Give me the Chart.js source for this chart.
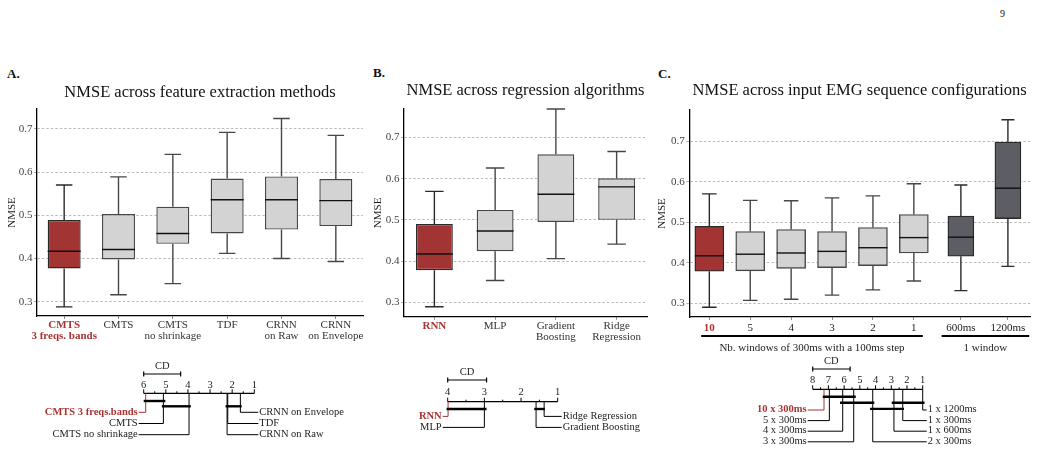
<!DOCTYPE html>
<html>
<head>
<meta charset="utf-8">
<script src="https://cdn.jsdelivr.net/npm/chart.js@4.4.0/dist/chart.umd.min.js"></script>
<style>
  html, body { margin: 0; padding: 0; background: #fff; }
  body { width: 1041px; height: 452px; position: relative; overflow: hidden; font-family: "Liberation Serif", serif; color: #111; }
  canvas { position: absolute; }
  .txt { position: absolute; white-space: nowrap; }
  .letter { position: absolute; font-weight: bold; font-size: 13px; line-height: 13px; }
</style>
</head>
<body>
<div class="txt" style="left:1000px;top:9px;font-size:10px;line-height:10px">9</div>
<div class="letter" style="left:7px;top:67.4px">A.</div>
<div class="letter" style="left:373px;top:66.4px">B.</div>
<div class="letter" style="left:658px;top:67.4px">C.</div>

<canvas id="boxA" width="372" height="290" style="left:0px;top:60px"></canvas>
<canvas id="boxB" width="293" height="290" style="left:362px;top:60px"></canvas>
<canvas id="boxC" width="395" height="295" style="left:646px;top:60px"></canvas>
<canvas id="cdA" width="370" height="100" style="left:0px;top:352px"></canvas>
<canvas id="cdB" width="270" height="100" style="left:380px;top:352px"></canvas>
<canvas id="cdC" width="341" height="100" style="left:700px;top:352px"></canvas>

<script>
// --- A: feature extraction methods
const labelsA = [['CMTS', '3 freqs. bands'], 'CMTS', ['CMTS', 'no shrinkage'], 'TDF', ['CRNN', 'on Raw'], ['CRNN', 'on Envelope']];
const minA = [0.288, 0.316, 0.342, 0.412, 0.400, 0.393];
const q1A  = [0.377, 0.398, 0.434, 0.458, 0.467, 0.475];
const medA = [0.417, 0.421, 0.458, 0.536, 0.536, 0.534];
const q3A  = [0.489, 0.503, 0.520, 0.585, 0.590, 0.584];
const maxA = [0.570, 0.589, 0.641, 0.692, 0.724, 0.685];

// --- B: regression algorithms
const labelsB = ['RNN', 'MLP', ['Gradient', 'Boosting'], ['Ridge', 'Regression']];
const minB = [0.289, 0.353, 0.406, 0.441];
const q1B  = [0.378, 0.424, 0.495, 0.500];
const medB = [0.417, 0.473, 0.562, 0.580];
const q3B  = [0.490, 0.524, 0.659, 0.601];
const maxB = [0.569, 0.626, 0.769, 0.666];

// --- C: input EMG sequence configurations
const labelsC = ['10', '5', '4', '3', '2', '1', '600ms', '1200ms'];
const posC = [0, 1, 2, 3, 4, 5, 6.15, 7.3];
const minC = [0.290, 0.307, 0.310, 0.320, 0.333, 0.355, 0.331, 0.391];
const q1C  = [0.379, 0.380, 0.386, 0.388, 0.393, 0.424, 0.416, 0.509];
const medC = [0.417, 0.421, 0.424, 0.428, 0.437, 0.462, 0.463, 0.584];
const q3C  = [0.490, 0.477, 0.482, 0.477, 0.487, 0.519, 0.515, 0.698];
const maxC = [0.570, 0.554, 0.553, 0.560, 0.565, 0.595, 0.592, 0.753];
const groupNamesC = ['Nb. windows of 300ms with a 100ms step', '1 window'];
const groupFromC = [-0.2, 5.68];
const groupToC = [5.22, 7.82];

const yTicks = [0.3, 0.4, 0.5, 0.6, 0.7];

// --- critical difference diagrams (average ranks)
const cdNamesA = ['CMTS 3 freqs.bands', 'CMTS', 'CMTS no shrinkage', 'CRNN on Envelope', 'TDF', 'CRNN on Raw'];
const cdRanksA = [5.91, 5.11, 3.95, 1.63, 2.20, 2.23];
const cliqueFromA = [6.0, 5.18, 2.30];
const cliqueToA = [5.02, 3.87, 1.57];
const cliqueLevelA = [0, 1, 1];

const cdNamesB = ['RNN', 'MLP', 'Ridge Regression', 'Gradient Boosting'];
const cdRanksB = [3.99, 3.0, 1.37, 1.59];
const cliqueFromB = [4.03, 1.64];
const cliqueToB = [2.94, 1.35];
const cliqueLevelB = [0, 0];

const cdNamesC = ['10 x 300ms', '5 x 300ms', '4 x 300ms', '3 x 300ms', '1 x 1200ms', '1 x 300ms', '1 x 600ms', '2 x 300ms'];
const cdRanksC = [7.28, 6.94, 6.09, 5.39, 1.0, 2.27, 2.83, 4.18];
const cliqueFromC = [7.36, 6.26, 2.97, 4.35];
const cliqueToC = [5.26, 4.08, 0.88, 2.19];
const cliqueLevelC = [0, 1, 1, 2];

const SERIF = '"Liberation Serif", "Times New Roman", serif';
const RED = '#a33434';
const RED_TXT = '#a83333';
const LIGHT = '#d3d3d3';
const DARK = '#5d5e63';

// whiskers + medians, drawn from the y scale
function whiskers(stats) {
  return {
    id: 'whiskers',
    afterDatasetsDraw(chart) {
      const ctx = chart.ctx, y = chart.scales.y;
      chart.data.datasets.forEach((ds, i) => {
        const s = stats[i];
        chart.getDatasetMeta(i).data.forEach((bar, j) => {
          const x = bar.x, w = bar.width, cap = w / 2;
          ctx.save();
          ctx.strokeStyle = ds.borderColor[j];
          ctx.lineWidth = 1.4;
          ctx.beginPath();
          ctx.moveTo(x, y.getPixelForValue(s.q3[j])); ctx.lineTo(x, y.getPixelForValue(s.max[j]));
          ctx.moveTo(x - cap / 2, y.getPixelForValue(s.max[j])); ctx.lineTo(x + cap / 2, y.getPixelForValue(s.max[j]));
          ctx.moveTo(x, y.getPixelForValue(s.q1[j])); ctx.lineTo(x, y.getPixelForValue(s.min[j]));
          ctx.moveTo(x - cap / 2, y.getPixelForValue(s.min[j])); ctx.lineTo(x + cap / 2, y.getPixelForValue(s.min[j]));
          ctx.stroke();
          ctx.strokeStyle = '#111';
          ctx.beginPath();
          ctx.moveTo(x - w / 2, y.getPixelForValue(s.med[j])); ctx.lineTo(x + w / 2, y.getPixelForValue(s.med[j]));
          ctx.stroke();
          ctx.restore();
        });
      });
    }
  };
}

function yScale(min, max, width, titlePad) {
  return {
    min: min, max: max,
    afterBuildTicks: s => { s.ticks = yTicks.map(v => ({ value: v })); },
    afterFit: s => { s.width = width; s.paddingTop = 0; s.paddingBottom = 0; },
    grid: { color: '#aaaaaa', lineWidth: 0.8, tickLength: 3, tickColor: '#999' },
    border: { color: '#000', width: 1.3, dash: [2.5, 2] },
    ticks: { padding: 1.5, color: '#444', font: { family: SERIF, size: 11 }, callback: v => v.toFixed(1) },
    title: { display: true, text: 'NMSE', color: '#222', padding: { top: titlePad, bottom: 0 }, font: { family: SERIF, size: 11 } }
  };
}

function xGrid() {
  return { display: true, drawOnChartArea: false, drawTicks: true, tickLength: 3, tickColor: '#888', offset: false };
}

function titleOpts(text, top, bottom) {
  return {
    display: true, text: text, fullSize: false, color: '#111',
    font: { family: SERIF, size: 16.5, weight: 'normal', lineHeight: 1.2 },
    padding: { top: top, bottom: bottom }
  };
}

function tickFont(ctx) {
  return ctx.index === 0
    ? { family: SERIF, size: 11, weight: 'bold', lineHeight: 1.0 }
    : { family: SERIF, size: 11, weight: 'normal', lineHeight: 1.0 };
}

function categoryBox(id, labels, st, title, geo) {
  const fill = labels.map((l, i) => i === 0 ? RED : LIGHT);
  const edge = labels.map((l, i) => i === 0 ? '#2a2a2a' : '#474747');
  return new Chart(document.getElementById(id), {
    type: 'bar',
    data: {
      labels: labels,
      datasets: [{
        data: st.q1.map((v, i) => [v, st.q3[i]]),
        backgroundColor: fill, borderColor: edge, borderWidth: 1.4, borderSkipped: false,
        barPercentage: 0.607, categoryPercentage: 1
      }]
    },
    options: {
      responsive: false, animation: false,
      layout: { padding: { left: 0, right: geo.padRight, top: 0, bottom: 0 } },
      plugins: {
        legend: { display: false }, tooltip: { enabled: false },
        title: titleOpts(title, geo.titleTop, geo.titleBottom)
      },
      scales: {
        x: {
          grid: xGrid(),
          border: { color: '#000', width: 1.3 },
          ticks: {
            autoSkip: false, maxRotation: 0, minRotation: 0, padding: 1,
            color: ctx => ctx.index === 0 ? RED_TXT : '#333',
            font: tickFont
          },
          afterFit: s => { s.height = geo.xHeight; s.paddingLeft = 0; s.paddingRight = 0; }
        },
        y: yScale(geo.min, geo.max, geo.yWidth, geo.yTitlePad)
      }
    },
    plugins: [whiskers([st])]
  });
}

categoryBox('boxA', labelsA, { min: minA, q1: q1A, med: medA, q3: q3A, max: maxA },
  'NMSE across feature extraction methods',
  { padRight: 9, titleTop: 23.1, titleBottom: 6.1, xHeight: 34, yWidth: 37, yTitlePad: 5.9, min: 0.267, max: 0.746 });

categoryBox('boxB', labelsB, { min: minB, q1: q1B, med: medB, q3: q3B, max: maxB },
  'NMSE across regression algorithms',
  { padRight: 8, titleTop: 21.1, titleBottom: 8.1, xHeight: 33.3, yWidth: 42, yTitlePad: 9.4, min: 0.265, max: 0.769 });

// panel C: linear x so the two groups can sit apart
const nWin = 6;
const statsC = [
  { min: minC.slice(0, nWin), q1: q1C.slice(0, nWin), med: medC.slice(0, nWin), q3: q3C.slice(0, nWin), max: maxC.slice(0, nWin) },
  { min: minC.slice(nWin), q1: q1C.slice(nWin), med: medC.slice(nWin), q3: q3C.slice(nWin), max: maxC.slice(nWin) }
];

const groupPlugin = {
  id: 'groups',
  afterDraw(chart) {
    const { ctx, chartArea: a, scales: { x } } = chart;
    ctx.save();
    groupNamesC.forEach((name, i) => {
      const x1 = x.getPixelForValue(groupFromC[i]), x2 = x.getPixelForValue(groupToC[i]);
      ctx.strokeStyle = '#000'; ctx.lineWidth = 1.8;
      ctx.beginPath(); ctx.moveTo(x1, a.bottom + 19); ctx.lineTo(x2, a.bottom + 19); ctx.stroke();
      ctx.fillStyle = '#222'; ctx.font = '11px ' + SERIF;
      ctx.textAlign = 'center'; ctx.textBaseline = 'middle';
      ctx.fillText(name, (x1 + x2) / 2, a.bottom + 31);
    });
    ctx.restore();
  }
};

new Chart(document.getElementById('boxC'), {
  type: 'bar',
  data: {
    datasets: [{
      data: posC.slice(0, nWin).map((p, i) => ({ x: p, y: [q1C[i], q3C[i]] })),
      backgroundColor: posC.slice(0, nWin).map((p, i) => i === 0 ? RED : LIGHT),
      borderColor: posC.slice(0, nWin).map((p, i) => i === 0 ? '#2a2a2a' : '#474747'),
      borderWidth: 1.4, borderSkipped: false, barThickness: 29, grouped: false
    }, {
      data: posC.slice(nWin).map((p, i) => ({ x: p, y: [q1C[nWin + i], q3C[nWin + i]] })),
      backgroundColor: [DARK, DARK], borderColor: ['#2b2b2b', '#2b2b2b'],
      borderWidth: 1.4, borderSkipped: false, barThickness: 26, grouped: false
    }]
  },
  options: {
    responsive: false, animation: false,
    layout: { padding: { left: 0, right: 11, top: 0, bottom: 0 } },
    plugins: {
      legend: { display: false }, tooltip: { enabled: false },
      title: titleOpts('NMSE across input EMG sequence configurations', 21.1, 9.1)
    },
    scales: {
      x: {
        type: 'linear', min: -0.49, max: 7.84, offset: false,
        afterBuildTicks: s => { s.ticks = posC.map(v => ({ value: v })); },
        grid: xGrid(),
        border: { color: '#000', width: 1.3 },
        ticks: {
          autoSkip: false, maxRotation: 0, minRotation: 0, padding: 3,
          color: ctx => ctx.index === 0 ? RED_TXT : '#222',
          font: tickFont,
          callback: (v, i) => labelsC[i]
        },
        afterFit: s => { s.height = 38; s.paddingLeft = 0; s.paddingRight = 0; }
      },
      y: yScale(0.266, 0.777, 43.3, 9.4)
    }
  },
  plugins: [whiskers(statsC), groupPlugin]
});

// --- CD diagrams
function cdPlugin(cd) {
  return {
    id: 'cdDiagram',
    afterDraw(chart) {
      const { ctx, chartArea: a } = chart;
      const x = chart.scales.x;
      const g = cd.geom;
      const y0 = a.top;
      const px = r => x.getPixelForValue(r);
      const seg = (pts, col, w) => {
        ctx.strokeStyle = col; ctx.lineWidth = w;
        ctx.beginPath(); ctx.moveTo(pts[0][0], pts[0][1]);
        for (let i = 1; i < pts.length; i++) ctx.lineTo(pts[i][0], pts[i][1]);
        ctx.stroke();
      };
      ctx.save();
      // rank axis
      seg([[px(cd.k), y0], [px(1), y0]], '#000', 1.2);
      ctx.font = '10.5px ' + SERIF; ctx.fillStyle = '#222';
      ctx.textAlign = 'center'; ctx.textBaseline = 'middle';
      for (let r = 1; r <= cd.k; r += 0.5) {
        const major = Number.isInteger(r);
        seg([[px(r), y0], [px(r), y0 - (major ? 4 : 2)]], '#000', 1);
        if (major) ctx.fillText(String(r), px(r), y0 + g.tickDy);
      }
      // critical difference bar
      const c1 = px(cd.k), c2 = px(cd.k - cd.cd), cy = y0 + g.cdBarDy;
      seg([[c1, cy], [c2, cy]], '#000', 1.2);
      seg([[c1, cy - 2.5], [c1, cy + 2.5]], '#000', 1.2);
      seg([[c2, cy - 2.5], [c2, cy + 2.5]], '#000', 1.2);
      ctx.fillText('CD', (c1 + c2) / 2, y0 + g.cdTextDy);
      // methods
      cd.names.forEach((name, i) => {
        const left = i < cd.nLeft;
        const row = left ? i : i - cd.nLeft;
        const ry = y0 + g.firstRow + row * g.rowStep;
        const rx = px(cd.ranks[i]);
        const ex = left ? a.left - 5 : a.right + 4;
        const col = i === 0 ? RED_TXT : '#000';
        seg([[rx, y0], [rx, ry], [ex, ry]], col, 1);
        ctx.fillStyle = i === 0 ? RED_TXT : '#222';
        ctx.font = (i === 0 ? 'bold ' : '') + '10.5px ' + SERIF;
        ctx.textAlign = left ? 'right' : 'left';
        ctx.fillText(name, left ? ex - 1 : ex + 1, ry - 0.5);
      });
      // cliques
      cd.from.forEach((f, i) => {
        const yy = y0 + g.cliqueStart + cd.level[i] * g.cliqueStep;
        seg([[px(f), yy], [px(cd.to[i]), yy]], '#000', 2.4);
      });
      ctx.restore();
    }
  };
}

function cdChart(id, cd, pad) {
  return new Chart(document.getElementById(id), {
    type: 'scatter',
    data: { datasets: [{ data: cd.ranks.map(r => ({ x: r, y: 0 })), pointRadius: 0 }] },
    options: {
      responsive: false, animation: false,
      layout: { padding: pad },
      plugins: { legend: { display: false }, tooltip: { enabled: false } },
      scales: {
        x: { type: 'linear', min: 1, max: cd.k, reverse: true, display: false },
        y: { display: false, min: 0, max: 1 }
      }
    },
    plugins: [cdPlugin(cd)]
  });
}

cdChart('cdA', {
  names: cdNamesA, ranks: cdRanksA, nLeft: 3, k: 6, cd: 1.67,
  from: cliqueFromA, to: cliqueToA, level: cliqueLevelA,
  geom: { tickDy: -8, cdBarDy: -19.3, cdTextDy: -26.6, firstRow: 19, rowStep: 11.2, cliqueStart: 7.7, cliqueStep: 5.3 }
}, { left: 143.7, right: 115.7, top: 41.3, bottom: 5 });

cdChart('cdB', {
  names: cdNamesB, ranks: cdRanksB, nLeft: 2, k: 4, cd: 1.06,
  from: cliqueFromB, to: cliqueToB, level: cliqueLevelB,
  geom: { tickDy: -9.4, cdBarDy: -21.7, cdTextDy: -29.4, firstRow: 14.7, rowStep: 11, cliqueStart: 7.3, cliqueStep: 6 }
}, { left: 67.7, right: 92.3, top: 49.7, bottom: 5 });

cdChart('cdC', {
  names: cdNamesC, ranks: cdRanksC, nLeft: 4, k: 8, cd: 2.38,
  from: cliqueFromC, to: cliqueToC, level: cliqueLevelC,
  geom: { tickDy: -8.6, cdBarDy: -20.3, cdTextDy: -27.6, firstRow: 20.7, rowStep: 10.6, cliqueStart: 7.4, cliqueStep: 6.1 }
}, { left: 112.7, right: 118.3, top: 37.3, bottom: 5 });
</script>
</body>
</html>
